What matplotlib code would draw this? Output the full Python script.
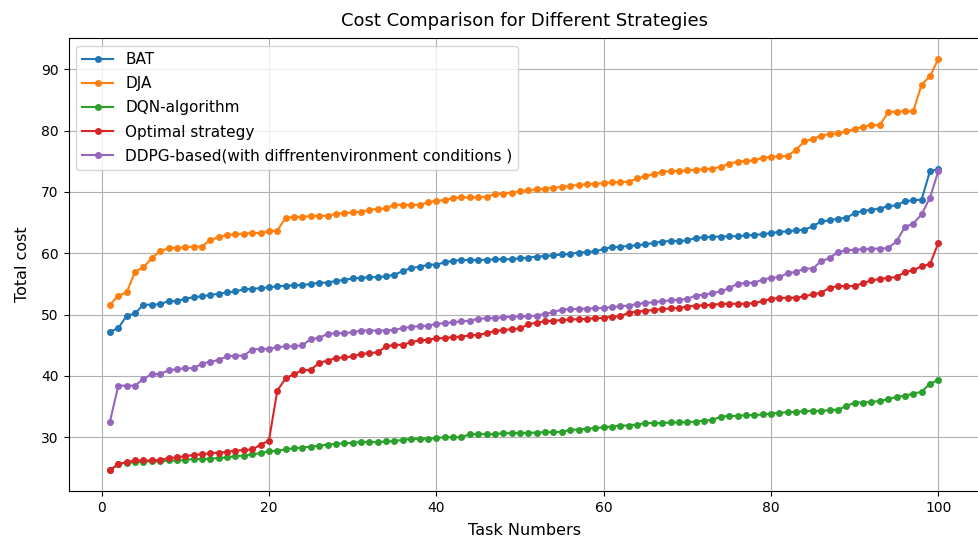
import numpy as np
import matplotlib
matplotlib.use("Agg")
import matplotlib.pyplot as plt

# Task numbers 1..100
tasks = list(range(1, 101))

bat = [47.2, 47.8, 49.8, 50.2, 51.6, 51.6, 51.7, 52.2, 52.2, 52.6,
       52.8, 53.0, 53.2, 53.4, 53.6, 53.8, 54.1, 54.2, 54.3, 54.45,
       54.6, 54.7, 54.75, 54.85, 54.95, 55.2, 55.2, 55.5, 55.65, 55.9,
       56.0, 56.1, 56.1, 56.25, 56.5, 57.1, 57.6, 57.8, 58.1, 58.15,
       58.5, 58.8, 58.9, 58.9, 58.9, 58.95, 59.0, 59.0, 59.05, 59.15,
       59.3, 59.45, 59.55, 59.65, 59.8, 59.9, 60.1, 60.2, 60.3, 60.7,
       61.0, 61.05, 61.2, 61.3, 61.45, 61.7, 61.9, 62.0, 62.0, 62.1,
       62.5, 62.6, 62.7, 62.72, 62.76, 62.8, 62.9, 63.0, 63.1, 63.3,
       63.47, 63.58, 63.74, 63.85, 64.4, 65.2, 65.37, 65.65, 65.75, 66.57,
       66.9, 67.1, 67.28, 67.7, 67.8, 68.5, 68.64, 68.75, 73.4, 73.7]

dja = [51.6, 53.1, 53.6, 57.0, 57.7, 59.2, 60.35, 60.8, 60.9, 60.95,
       61.1, 61.1, 62.2, 62.6, 63.0, 63.1, 63.2, 63.3, 63.3, 63.6,
       63.7, 65.8, 65.9, 65.95, 66.05, 66.1, 66.1, 66.4, 66.6, 66.65,
       66.75, 67.1, 67.2, 67.35, 67.9, 67.9, 67.9, 67.9, 68.3, 68.55,
       68.7, 69.0, 69.1, 69.1, 69.1, 69.25, 69.6, 69.7, 69.9, 70.1,
       70.27, 70.4, 70.5, 70.7, 70.8, 71.0, 71.15, 71.25, 71.35, 71.4,
       71.6, 71.6, 71.7, 72.2, 72.6, 72.9, 73.3, 73.4, 73.4, 73.5,
       73.65, 73.7, 73.8, 74.1, 74.6, 74.95, 75.0, 75.2, 75.5, 75.76,
       75.8, 75.87, 76.9, 78.26, 78.64, 79.2, 79.46, 79.57, 79.9, 80.27,
       80.65, 80.9, 80.9, 83.0, 83.1, 83.15, 83.15, 87.5, 88.86, 91.7]

dqn = [24.6, 25.6, 25.85, 25.9, 26.0, 26.05, 26.05, 26.2, 26.2, 26.3,
       26.45, 26.45, 26.5, 26.6, 26.7, 26.9, 27.0, 27.2, 27.4, 27.7,
       27.8, 28.0, 28.2, 28.3, 28.45, 28.6, 28.8, 28.9, 29.0, 29.1,
       29.2, 29.2, 29.2, 29.3, 29.35, 29.6, 29.7, 29.75, 29.75, 29.85,
       30.0, 30.0, 30.0, 30.5, 30.5, 30.5, 30.5, 30.65, 30.65, 30.7,
       30.7, 30.76, 30.8, 30.85, 30.87, 31.2, 31.25, 31.36, 31.5, 31.6,
       31.74, 31.9, 31.9, 32.06, 32.3, 32.3, 32.3, 32.4, 32.4, 32.45,
       32.55, 32.7, 32.8, 33.35, 33.46, 33.48, 33.6, 33.6, 33.7, 33.86,
       33.97, 34.08, 34.13, 34.24, 34.3, 34.3, 34.4, 34.5, 35.05, 35.65,
       35.65, 35.76, 35.9, 36.2, 36.58, 36.74, 37.12, 37.4, 38.75, 39.3]

optimal = [24.6, 25.65, 25.9, 26.2, 26.2, 26.2, 26.3, 26.6, 26.7, 26.9,
           27.1, 27.2, 27.4, 27.5, 27.6, 27.8, 27.9, 28.0, 28.75, 29.45,
           37.6, 39.6, 40.3, 40.9, 41.0, 42.1, 42.5, 42.9, 43.0, 43.2,
           43.6, 43.7, 43.85, 44.8, 45.05, 45.05, 45.5, 45.8, 45.9, 46.1,
           46.2, 46.3, 46.4, 46.6, 46.7, 46.95, 47.3, 47.5, 47.6, 47.75,
           48.4, 48.7, 48.9, 49.0, 49.1, 49.2, 49.24, 49.3, 49.4, 49.46,
           49.67, 49.73, 50.3, 50.5, 50.6, 50.76, 50.9, 51.0, 51.1, 51.3,
           51.47, 51.5, 51.6, 51.74, 51.76, 51.76, 51.76, 51.87, 52.2, 52.58,
           52.7, 52.74, 52.74, 52.96, 53.3, 53.56, 54.38, 54.65, 54.65, 54.65,
           55.14, 55.57, 55.8, 56.0, 56.1, 56.94, 57.2, 57.9, 58.2, 61.7]

ddpg = [32.55, 38.4, 38.4, 38.4, 39.5, 40.3, 40.3, 40.9, 41.1, 41.25,
        41.25, 42.0, 42.3, 42.6, 43.2, 43.3, 43.3, 44.3, 44.4, 44.4,
        44.7, 44.8, 44.8, 45.0, 46.0, 46.2, 46.85, 46.95, 47.0, 47.1,
        47.4, 47.4, 47.4, 47.4, 47.5, 47.8, 48.0, 48.1, 48.2, 48.5,
        48.6, 48.75, 48.9, 49.0, 49.3, 49.4, 49.45, 49.55, 49.67, 49.7,
        49.7, 49.84, 50.1, 50.4, 50.8, 50.9, 50.9, 50.98, 51.0, 51.1,
        51.2, 51.36, 51.47, 51.74, 51.9, 52.0, 52.2, 52.3, 52.45, 52.55,
        53.1, 53.26, 53.5, 53.8, 54.3, 55.03, 55.14, 55.2, 55.7, 56.0,
        56.1, 56.77, 56.94, 57.5, 57.5, 58.73, 59.2, 60.2, 60.47, 60.58,
        60.64, 60.75, 60.75, 60.85, 61.94, 64.28, 64.83, 66.35, 69.07, 73.43]

labels = ["BAT", "DJA", "DQN-algorithm", "Optimal strategy",
          "DDPG-based(with diffrentenvironment conditions )"]

fig = plt.figure(figsize=(9.79, 5.4), dpi=100)
plt.subplots_adjust(left=0.070, right=1.0008, top=0.929, bottom=0.091)

for series, label in zip([bat, dja, dqn, optimal, ddpg], labels):
    plt.plot(tasks, series, marker='o', markersize=4, label=label)

plt.xlabel("Task Numbers", fontsize=11.5, labelpad=6)
plt.ylabel("Total cost", fontsize=11.5, labelpad=8)
plt.title("Cost Comparison for Different Strategies", fontsize=13, pad=9)
plt.legend(loc="upper left", fontsize=11, labelspacing=0.6)
plt.grid(True)

plt.savefig("out.png", dpi=100)
